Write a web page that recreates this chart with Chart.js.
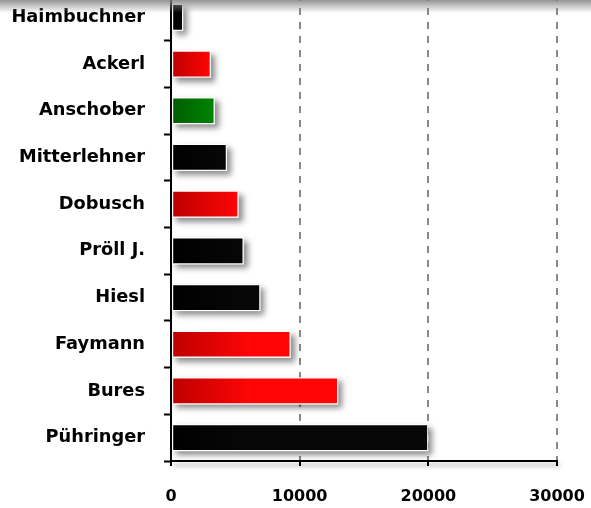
<!DOCTYPE html>
<html>
<head>
<meta charset="utf-8">
<script src="https://cdn.jsdelivr.net/npm/chart.js@4"></script>
<style>
  html, body { margin: 0; padding: 0; background: #fff; overflow: hidden; }
  #wrap { position: relative; width: 591px; height: 508px; overflow: hidden; }
  #chart { position: absolute; left: 0; top: -10px; }
  #topShade {
    position: absolute; left: 0; top: 0; width: 591px; height: 13px;
    background: linear-gradient(to bottom, rgba(130,130,130,0.85), rgba(255,255,255,0));
    pointer-events: none;
  }
</style>
</head>
<body>
<div id="wrap">
  <canvas id="chart" width="591" height="518"></canvas>
  <div id="topShade"></div>
</div>
<script>
const names = ['Haimbuchner', 'Ackerl', 'Anschober', 'Mitterlehner', 'Dobusch', 'Pröll J.', 'Hiesl', 'Faymann', 'Bures', 'Pühringer'];
const votes = [950, 3100, 3400, 4350, 5250, 5650, 6950, 9300, 13000, 20000];
const party = ['fpo', 'spo', 'gruene', 'ovp', 'spo', 'ovp', 'ovp', 'spo', 'spo', 'ovp'];
const xTicks = [0, 10000, 20000, 30000];

// dark (left) -> bright (right) per party
const partyColors = {
    spo: ['#bc0000', '#ff0505'],
    ovp: ['#000000', '#070707'],
    fpo: ['#000000', '#070707'],
    gruene: ['#005c00', '#008500']
};

function barFill(ctx) {
    const chart = ctx.chart;
    const cols = partyColors[party[ctx.dataIndex]];
    const x = chart.scales.x;
    if (!chart.chartArea || !x) return cols[1];
    const x0 = x.getPixelForValue(0);
    const x1 = x.getPixelForValue(votes[ctx.dataIndex]);
    const g = chart.ctx.createLinearGradient(x0, 0, x1, 0);
    g.addColorStop(0, cols[0]);
    g.addColorStop(Math.min(1, 80 / Math.max(1, x1 - x0)), cols[1]);
    g.addColorStop(1, cols[1]);
    return g;
}

// soft drop shadow under bars and the x axis line
const shadowPlugin = {
    id: 'shadows',
    beforeDatasetsDraw(chart) {
        const c = chart.ctx;
        const area = chart.chartArea;
        c.save();
        c.shadowColor = 'rgba(0,0,0,0.45)';
        c.shadowBlur = 6;
        c.shadowOffsetX = 4;
        c.shadowOffsetY = 4;
        c.fillStyle = '#fff';
        chart.getDatasetMeta(0).data.forEach(bar => {
            const p = bar.getProps(['x', 'y', 'base', 'height'], true);
            c.fillRect(p.base, p.y - p.height / 2, p.x - p.base, p.height);
        });
        c.shadowColor = 'rgba(0,0,0,0.35)';
        c.shadowBlur = 4;
        c.shadowOffsetX = 3;
        c.shadowOffsetY = 4;
        c.strokeStyle = '#000';
        c.lineWidth = 2;
        c.beginPath();
        c.moveTo(area.left, area.bottom);
        c.lineTo(area.right, area.bottom);
        c.stroke();
        c.restore();
    }
};

new Chart(document.getElementById('chart'), {
    type: 'bar',
    data: {
        labels: names,
        datasets: [{
            data: votes,
            backgroundColor: barFill,
            borderColor: 'rgba(255,255,255,0.85)',
            borderWidth: 1.2,
            borderSkipped: false,
            barPercentage: 0.58,
            categoryPercentage: 1
        }]
    },
    options: {
        indexAxis: 'y',
        responsive: false,
        animation: false,
        layout: { padding: { top: 4, right: 34, left: 0, bottom: 0 } },
        plugins: {
            legend: { display: false },
            tooltip: { enabled: false }
        },
        scales: {
            x: {
                min: 0,
                max: 30000,
                afterBuildTicks: scale => { scale.ticks = xTicks.map(v => ({ value: v })); },
                afterFit: scale => {
                    scale.height = 47;
                    scale.paddingLeft = 0;
                    scale.paddingRight = 0;
                },
                ticks: {
                    color: '#000',
                    padding: 21,
                    maxRotation: 0,
                    callback: v => String(v),
                    font: { family: 'DejaVu Sans', size: 16, weight: 'bold' }
                },
                grid: {
                    color: c => c.tick && c.tick.value === 0 ? 'rgba(0,0,0,0)' : '#888',
                    lineWidth: 2,
                    tickColor: '#000',
                    tickLength: 5,
                    tickWidth: 2
                },
                border: { display: true, color: '#000', width: 2, dash: [7, 7] }
            },
            y: {
                afterFit: scale => {
                    scale.width = 171;
                    scale.paddingTop = 0;
                    scale.paddingBottom = 0;
                },
                ticks: {
                    color: '#000',
                    padding: 19,
                    font: { family: 'DejaVu Sans', size: 17.8, weight: 'bold' }
                },
                grid: {
                    drawOnChartArea: false,
                    offset: true,
                    tickColor: '#000',
                    tickLength: 7,
                    tickWidth: 2
                },
                border: { display: true, color: '#000', width: 2 }
            }
        }
    },
    plugins: [shadowPlugin]
});
</script>
</body>
</html>
